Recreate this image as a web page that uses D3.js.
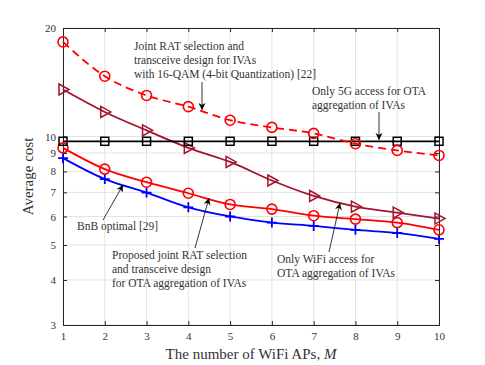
<!DOCTYPE html>
<meta charset="utf-8">
<script src="https://d3js.org/d3.v7.min.js"></script>
<style>
  body { margin: 0; background: #fff; }
  text { font-family: "Liberation Serif", "Times New Roman", serif; fill: #333; }
</style>
<div id="chart"></div>
<script>

// data
var apCount = [1, 2, 3, 4, 5, 6, 7, 8, 9, 10];
var qam16Cost = [18.3, 14.7, 13.0, 12.1, 11.1, 10.6, 10.2, 9.55, 9.15, 8.86];
var only5GCost = [9.7, 9.7, 9.7, 9.7, 9.7, 9.7, 9.7, 9.7, 9.7, 9.7];
var onlyWiFiCost = [13.5, 11.7, 10.4, 9.3, 8.5, 7.55, 6.84, 6.39, 6.15, 5.92];
var proposedCost = [9.3, 8.12, 7.47, 6.96, 6.48, 6.29, 6.03, 5.9, 5.77, 5.51];
var bnbCost = [8.71, 7.62, 6.99, 6.36, 6.0, 5.77, 5.65, 5.51, 5.4, 5.2];
var yTicks = [3, 4, 5, 6, 7, 8, 9, 10, 20];

var margin = {top: 28, right: 46, bottom: 40, left: 63},
  width = 485 - margin.left - margin.right,
  height = 365 - margin.top - margin.bottom;

var svg = d3.select("#chart")
  .append("svg")
    .attr("width", 485)
    .attr("height", 365)
  .append("g")
    .attr("transform", "translate(" + margin.left + "," + margin.top + ")");

var x = d3.scaleLinear().domain([1, 10]).range([0, width]);
var y = d3.scaleLog().domain([3, 20]).range([height, 0]);

// grid
svg.append("g").selectAll("line.gx")
  .data(apCount).enter().append("line")
    .attr("x1", d => x(d)).attr("x2", d => x(d))
    .attr("y1", 0).attr("y2", height)
    .attr("stroke", "#e3e3e3").attr("stroke-width", 1);
svg.append("g").selectAll("line.gy")
  .data(yTicks).enter().append("line")
    .attr("x1", 0).attr("x2", width)
    .attr("y1", d => y(d)).attr("y2", d => y(d))
    .attr("stroke", "#e3e3e3").attr("stroke-width", 1);

// axes, ticks pointing inwards
var bottomAxis = svg.append("g")
  .attr("transform", "translate(0," + height + ")")
  .call(d3.axisBottom(x).tickValues(apCount).tickSize(-4).tickPadding(7).tickFormat(d3.format("d")));
var topAxis = svg.append("g")
  .call(d3.axisTop(x).tickValues(apCount).tickSize(-4).tickFormat(""));
var leftAxis = svg.append("g")
  .call(d3.axisLeft(y).tickValues(yTicks).tickSize(-4).tickPadding(7).tickFormat(d3.format("d")));
var rightAxis = svg.append("g")
  .attr("transform", "translate(" + width + ",0)")
  .call(d3.axisRight(y).tickValues(yTicks).tickSize(-4).tickFormat(""));

[bottomAxis, topAxis, leftAxis, rightAxis].forEach(function(a) {
  a.select(".domain").attr("stroke", "#262626").attr("stroke-width", 1);
  a.selectAll(".tick line").attr("stroke", "#262626");
  a.selectAll("text").style("font-size", "11px").attr("fill", "#333")
    .style("font-family", "Liberation Serif");
});

// axis labels
svg.append("text")
  .attr("x", width / 2).attr("y", height + 34)
  .attr("text-anchor", "middle")
  .style("font-size", "15px")
  .html("The number of WiFi APs, <tspan font-style='italic'>M</tspan>");

svg.append("text")
  .attr("transform", "rotate(-90)")
  .attr("x", -height / 2).attr("y", -30)
  .attr("text-anchor", "middle")
  .style("font-size", "15px")
  .text("Average cost");

// series
var series = [
  {values: bnbCost, color: "#0000ff", marker: "plus", dash: null},
  {values: proposedCost, color: "#ff0000", marker: "circle", dash: null},
  {values: onlyWiFiCost, color: "#a2142f", marker: "triangle", dash: null},
  {values: only5GCost, color: "#000000", marker: "square", dash: null},
  {values: qam16Cost, color: "#ff0000", marker: "circle", dash: "8,5"}
];

var line = d3.line()
  .x(function(d, i) { return x(apCount[i]); })
  .y(function(d) { return y(d); })
  .curve(d3.curveMonotoneX);

series.forEach(function(s) {
  svg.append("path")
    .datum(s.values)
    .attr("d", line)
    .attr("fill", "none")
    .attr("stroke", s.color)
    .attr("stroke-width", 1.8)
    .attr("stroke-dasharray", s.dash);

  var pts = svg.append("g").selectAll("g")
    .data(s.values).enter().append("g")
      .attr("transform", function(d, i) { return "translate(" + x(apCount[i]) + "," + y(d) + ")"; });

  if (s.marker == "circle") {
    pts.append("circle").attr("r", 5)
      .attr("fill", "none").attr("stroke", s.color).attr("stroke-width", 1.6);
  } else if (s.marker == "square") {
    pts.append("rect").attr("x", -4).attr("y", -4).attr("width", 8).attr("height", 8)
      .attr("fill", "none").attr("stroke", s.color).attr("stroke-width", 1.5);
  } else if (s.marker == "triangle") {
    pts.append("path").attr("d", "M-4,-5.5L6,0L-4,5.5Z")
      .attr("fill", "none").attr("stroke", s.color).attr("stroke-width", 1.5);
  } else {
    pts.append("path").attr("d", "M-5,0H5M0,-5V5")
      .attr("stroke", s.color).attr("stroke-width", 1.8);
  }
});

// annotations with arrows
svg.append("defs").append("marker")
  .attr("id", "head")
  .attr("viewBox", "0 0 10 10")
  .attr("refX", 10).attr("refY", 5)
  .attr("markerWidth", 7).attr("markerHeight", 9)
  .attr("markerUnits", "userSpaceOnUse")
  .attr("orient", "auto")
  .append("path").attr("d", "M0,0L10,5L0,10L3,5Z").attr("fill", "#000");

var notes = [
  {lines: ["Joint RAT selection and", "transceive design for IVAs", "with 16-QAM (4-bit Quantization) [22]"],
   tx: 134, ty: 46, from: [202, 82], to: [202, 110]},
  {lines: ["Only 5G access for OTA", "aggregation of IVAs"],
   tx: 312, ty: 91, from: [379, 112], to: [379, 140]},
  {lines: ["BnB optimal [29]"],
   tx: 77, ty: 226, from: [103, 220], to: [123, 185]},
  {lines: ["Proposed joint RAT selection", "and transceive design", "for OTA aggregation of IVAs"],
   tx: 112, ty: 255, from: [195, 248], to: [209, 198]},
  {lines: ["Only WiFi access for", "OTA aggregation of IVAs"],
   tx: 277, ty: 259, from: [329, 252], to: [340, 203]}
];

var ann = d3.select("svg").append("g");
notes.forEach(function(n) {
  var t = ann.append("text").style("font-size", "11.5px").attr("fill", "#262626");
  n.lines.forEach(function(l, i) {
    t.append("tspan").attr("x", n.tx).attr("y", n.ty + i * 14).attr("dy", "0.35em").text(l);
  });
  ann.append("line")
    .attr("x1", n.from[0]).attr("y1", n.from[1])
    .attr("x2", n.to[0]).attr("y2", n.to[1])
    .attr("stroke", "#000").attr("stroke-width", 0.8)
    .attr("marker-end", "url(#head)");
});

</script>
